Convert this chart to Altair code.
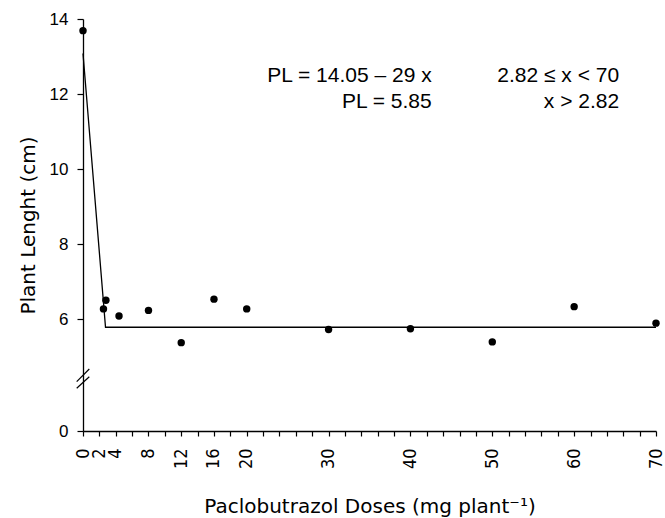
import altair as alt
import pandas as pd

# ---- data ----
dose = [0, 2.5, 2.8, 4.4, 8, 12, 16, 20, 30, 40, 50, 60, 70]
length = [13.69, 6.27, 6.50, 6.08, 6.23, 5.37, 6.53, 6.27, 5.72, 5.74, 5.39, 6.33, 5.89]
fit_x = [0, 2.75, 70]
fit_y = [13.08, 5.78, 5.78]
x_tick_values = list(range(0, 71, 2))
x_label_values = [0, 2, 4, 8, 12, 16, 20, 30, 40, 50, 60, 70]
y_tick_values = [0, 6, 8, 10, 12, 14]
eq_left = ["PL = 14.05 – 29 x", "PL = 5.85"]
eq_right = ["2.82 ≤ x < 70", "x > 2.82"]
eq_y = [12.48, 11.79]
eq_left_x = [42.6, 42.6]
eq_right_x = [65.5, 65.5]

W, H = 573, 412
TICKFONT = "DejaVu Sans Condensed, DejaVu Sans"
TITLEFONT = "DejaVu Sans"
ARIAL = "Liberation Sans, Arial"

xs = alt.Scale(domain=[0, 70], nice=False, zero=False)
ys = alt.Scale(domain=[0, 4, 14], range=[H, 375, 0], nice=False, zero=False)

label_list = "[" + ",".join(str(v) for v in x_label_values) + "]"
x_axis = alt.Axis(
    values=x_tick_values,
    labelExpr=f"indexof({label_list}, datum.value) >= 0 ? datum.label : ''",
    labelAngle=270, labelFont=TICKFONT, labelFontSize=18, labelPadding=12,
    tickSize=5, grid=False,
    title="Paclobutrazol Doses (mg plant⁻¹)", titleFont=TITLEFONT, titleFontSize=20,
    titleFontWeight="normal", titlePadding=28, labelOverlap=False, labelFlush=False,
)
y_axis = alt.Axis(
    values=y_tick_values, labelFont=ARIAL, labelFontSize=17, labelPadding=9,
    tickSize=6, grid=False,
    title="Plant Lenght (cm)", titleFont=TITLEFONT, titleFontSize=20,
    titleFontWeight="normal", titlePadding=11,
)

X = lambda f: alt.X(f"{f}:Q", scale=xs, axis=x_axis)
Y = lambda f: alt.Y(f"{f}:Q", scale=ys, axis=y_axis)

pts_df = pd.DataFrame({"x": dose, "y": length})
fit_df = pd.DataFrame({"x": fit_x, "y": fit_y})
eq_df = pd.DataFrame({"xl": eq_left_x, "xr": eq_right_x, "y": eq_y,
                      "tl": eq_left, "tr": eq_right})

line = alt.Chart(fit_df).mark_line(color="black", strokeWidth=1.3).encode(x=X("x"), y=Y("y"))
points = alt.Chart(pts_df).mark_point(filled=True, color="black", opacity=1, size=55).encode(
    x=X("x"), y=Y("y"))
txt_l = alt.Chart(eq_df).mark_text(align="right", baseline="middle", font=ARIAL,
                                   fontSize=21, color="black").encode(
    x=X("xl"), y=Y("y"), text="tl:N")
txt_r = alt.Chart(eq_df).mark_text(align="right", baseline="middle", font=ARIAL,
                                   fontSize=21, color="black").encode(
    x=X("xr"), y=Y("y"), text="tr:N")

one = pd.DataFrame({"a": [0]})
brk1 = alt.Chart(one).mark_rule(color="black", strokeWidth=1.2).encode(
    x=alt.value(-6.3), x2=alt.value(6.3), y=alt.value(362.7), y2=alt.value(350))
brk2 = alt.Chart(one).mark_rule(color="black", strokeWidth=1.2).encode(
    x=alt.value(-6.3), x2=alt.value(6.3), y=alt.value(369.3), y2=alt.value(357.7))

chart = alt.layer(line, points, txt_l, txt_r, brk1, brk2).properties(
    width=W, height=H,
    padding={"left": 83, "top": 19, "right": 9, "bottom": 87},
    autosize=alt.AutoSizeParams(type="none"),
    background="white",
).configure_view(stroke=None).configure_axis(
    domainColor="black", domainWidth=1.3, tickColor="black", tickWidth=1.2,
    labelColor="black", titleColor="black",
)

chart.save("out.html", embed_options={"renderer": "svg", "actions": False})
